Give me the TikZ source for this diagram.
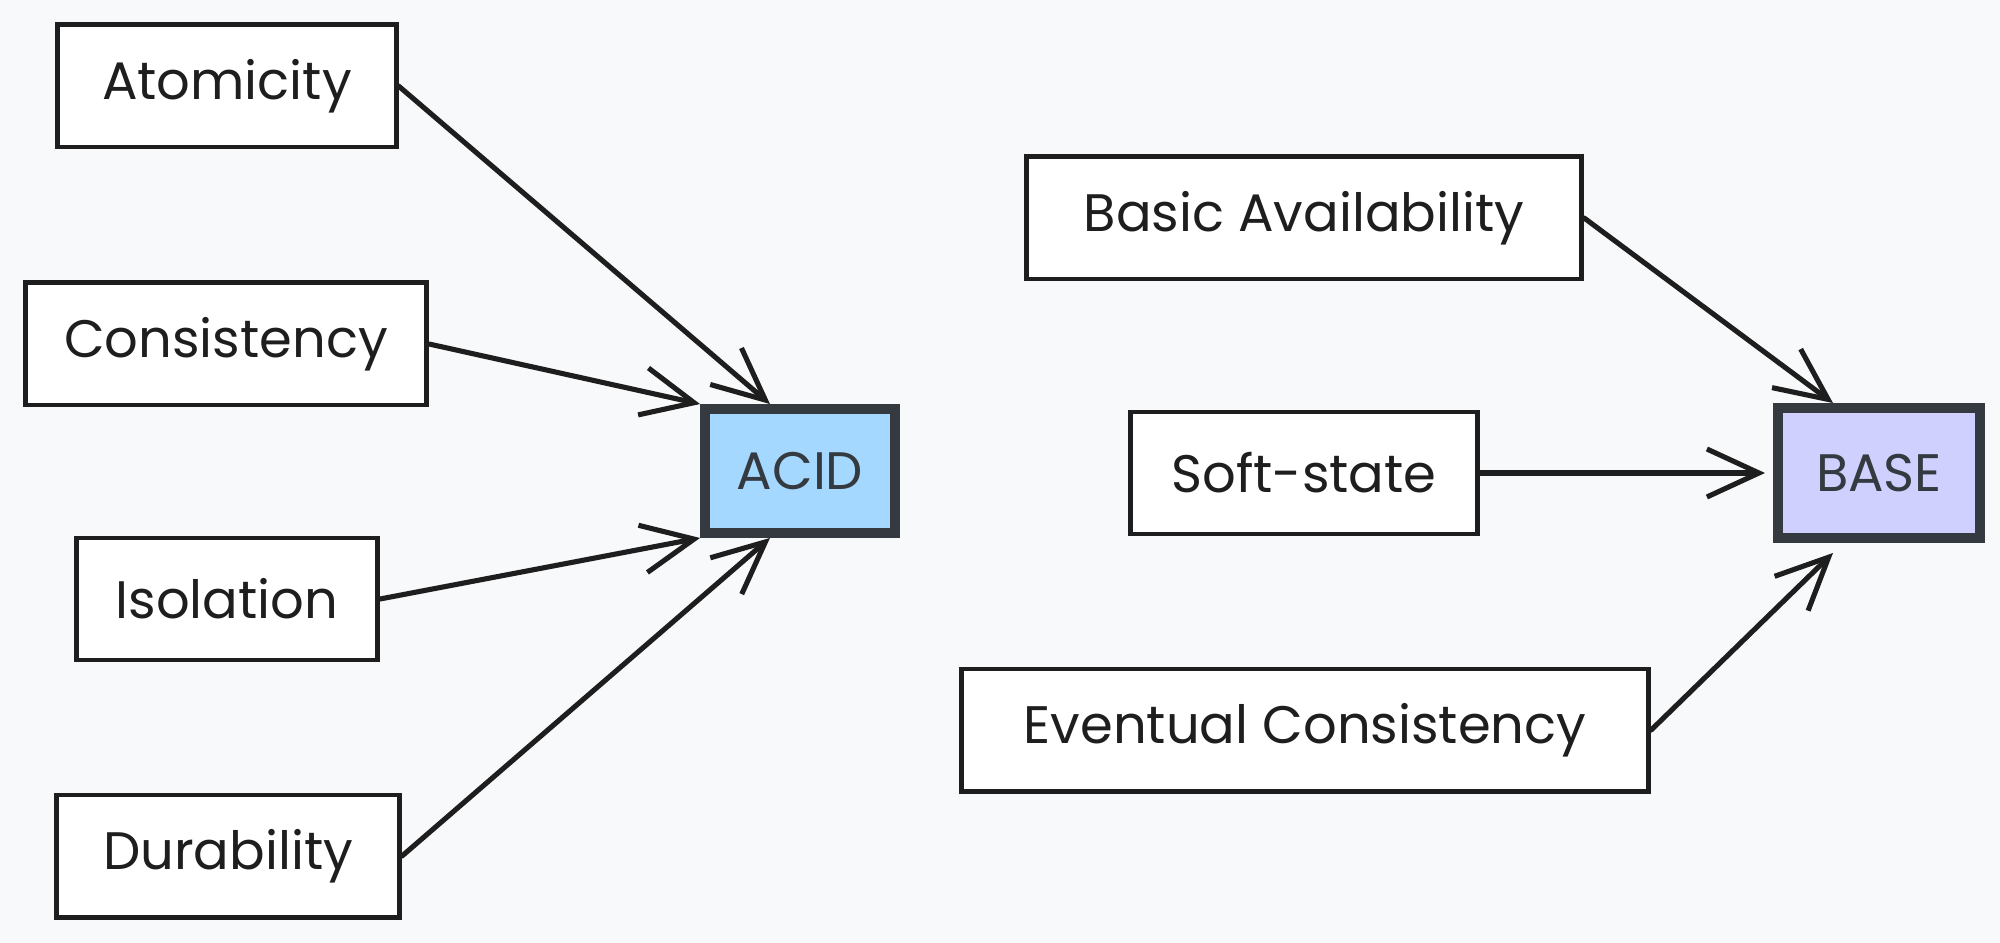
\documentclass[tikz,border=0pt]{standalone}
\usepackage{fontspec}
\setmainfont{Poppins}
\usetikzlibrary{arrows.meta}
\definecolor{bg}{HTML}{F8F9FA}
\definecolor{ink}{HTML}{1E1E1E}
\definecolor{dark}{HTML}{343A40}
\definecolor{acidfill}{HTML}{A5D8FF}
\definecolor{basefill}{HTML}{D0D0FF}
\tikzset{
  item/.style={draw=ink, line width=1.4pt, fill=white, minimum height=1.22cm, inner sep=0pt, font=\fontsize{15}{18}\selectfont, text=ink},
  hub/.style={draw=dark, line width=2.8pt, minimum width=1.9cm, minimum height=1.24cm, inner sep=0pt, font=\fontsize{15}{18}\selectfont, text=dark},
  link/.style={draw=ink, line width=1.45pt, -{Straight Barb[length=0.52cm, width=0.48cm, line width=1.45pt]}, line cap=round}
}
\begin{document}
\begin{tikzpicture}[x=0.01cm, y=-0.01cm]
\fill[bg] (0,0) rectangle (2000,943);
\useasboundingbox (0,0) rectangle (2000,943);
\node[item, minimum width=3.38cm] (atom) at (227,86) {Atomicity};
\node[item, minimum width=4.01cm] (cons) at (226,344) {Consistency};
\node[item, minimum width=3.01cm] (iso) at (227,599) {Isolation};
\node[item, minimum width=3.43cm] (dur) at (228,856) {Durability};
\node[hub, fill=acidfill] (acid) at (800,471) {ACID};
\node[item, minimum width=5.55cm] (ba) at (1304,218) {Basic Availability};
\node[item, minimum width=3.46cm] (ss) at (1304,473) {Soft-state};
\node[item, minimum width=6.87cm] (ec) at (1305,730) {Eventual Consistency};
\node[hub, fill=basefill, minimum width=2.02cm, minimum height=1.3cm] (base) at (1879,473) {BASE};
\draw[link] (atom.east) -- ([xshift=-0.3cm]acid.north);
\draw[link] (cons.east) -- (acid.north west);
\draw[link] (iso.east) -- (acid.south west);
\draw[link] (dur.east) -- ([xshift=-0.3cm]acid.south);
\draw[link] (ba.east) -- ([xshift=-0.46cm]base.north);
\draw[link] (ss.east) -- ([xshift=-0.08cm]base.west);
\draw[link] (ec.east) -- ([xshift=-0.46cm,yshift=-0.1cm]base.south);
\end{tikzpicture}
\end{document}
